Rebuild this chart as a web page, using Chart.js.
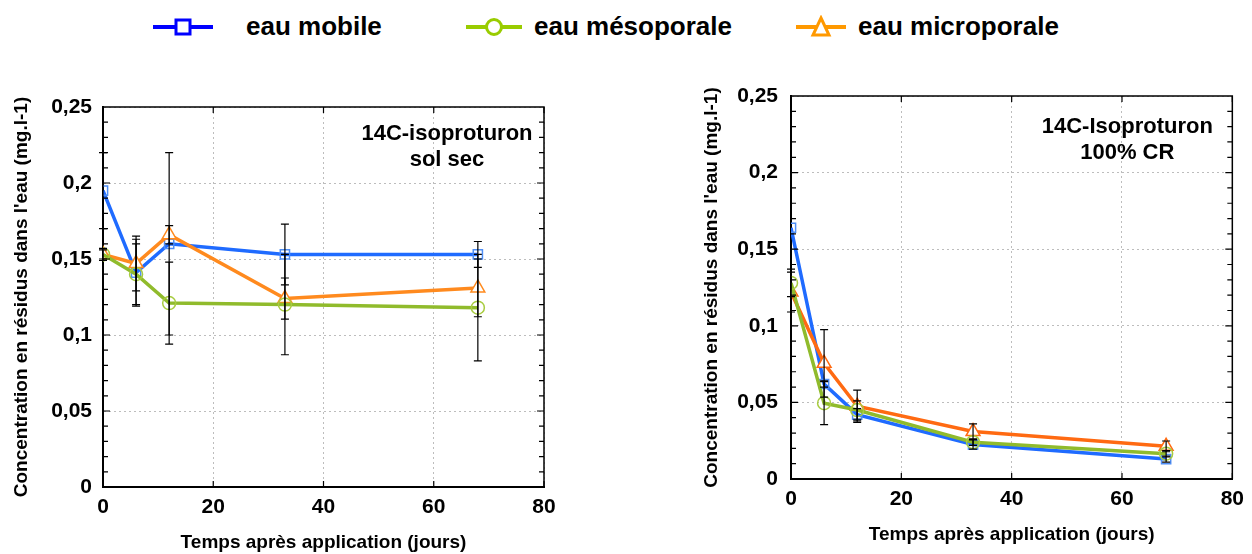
<!DOCTYPE html>
<html>
<head>
<meta charset="utf-8">
<script src="https://cdn.jsdelivr.net/npm/chart.js@4.4.1/dist/chart.umd.min.js"></script>
<style>
  body { margin: 0; background: #fff; font-family: Arial, "Liberation Sans", sans-serif; }
  #wrap { position: relative; width: 1252px; height: 554px; overflow: hidden; }
  .leg { position: absolute; top: 11px; font-weight: bold; font-size: 26px; line-height: 30px; color: #000; }
  .sym { position: absolute; top: 15px; }
  #leftBox { position: absolute; left: 0; top: 0; width: 580px; height: 554px; }
  #rightBox { position: absolute; left: 690px; top: 0; width: 562px; height: 554px; }
</style>
</head>
<body>
<div id="wrap">
  <svg class="sym" style="left:150px" width="66" height="24">
    <line x1="3" y1="12" x2="63" y2="12" stroke="#0000ff" stroke-width="4"/>
    <rect x="26" y="5" width="14" height="14" fill="#fff" stroke="#0000ff" stroke-width="3"/>
  </svg>
  <span class="leg" style="left:246px">eau mobile</span>
  <svg class="sym" style="left:463px" width="62" height="24">
    <line x1="3" y1="12" x2="59" y2="12" stroke="#99cc00" stroke-width="4"/>
    <circle cx="31" cy="12" r="7.5" fill="#fff" stroke="#99cc00" stroke-width="3"/>
  </svg>
  <span class="leg" style="left:534px">eau mésoporale</span>
  <svg class="sym" style="left:793px" width="56" height="24">
    <line x1="3" y1="12" x2="53" y2="12" stroke="#ff9900" stroke-width="4"/>
    <polygon points="28,3 36,20 20,20" fill="#fff" stroke="#ff9900" stroke-width="3"/>
  </svg>
  <span class="leg" style="left:858px">eau microporale</span>
  <div id="leftBox"><canvas id="chartSec"></canvas></div>
  <div id="rightBox"><canvas id="chartCR"></canvas></div>
</div>
<script>
// jours après application
const days = [0, 6, 12, 33, 68];
const yTickLabels = ["0", "0,05", "0,1", "0,15", "0,2", "0,25"];
const seriesNames = ["eau mobile", "eau mésoporale", "eau microporale"];

// 14C-isoproturon, sol sec
const secMobile = [0.195, 0.141, 0.16, 0.153, 0.153];
const secMeso = [0.153, 0.14, 0.121, 0.12, 0.118];
const secMicro = [0.153, 0.147, 0.166, 0.124, 0.131];
const secMobileErr = [0.025, 0.022, 0.06, 0.02, 0.0085];
const secMesoErr = [0.004, 0.02, 0.027, 0.033, 0.035];
const secMicroErr = [0.003, 0.018, 0.006, 0.0135, 0.019];

// 14C-Isoproturon, 100% CR
const crMobile = [0.164, 0.062, 0.042, 0.0225, 0.013];
const crMeso = [0.128, 0.0495, 0.045, 0.024, 0.0165];
const crMicro = [0.122, 0.0755, 0.0475, 0.031, 0.0213];
const crMobileErr = [0, 0.002, 0.004, 0.003, 0.002];
const crMesoErr = [0.009, 0.014, 0.006, 0.002, 0.002];
const crMicroErr = [0.013, 0.022, 0.0105, 0.005, 0.0035];

const FONT = "Arial, 'Liberation Sans', sans-serif";

function points(values) {
  return values.map((v, i) => ({ x: days[i], y: v }));
}

const errorBars = {
  id: "errorBars",
  afterDatasetsDraw(chart) {
    const { ctx } = chart;
    const { x, y } = chart.scales;
    ctx.save();
    ctx.strokeStyle = "#000";
    ctx.lineWidth = 1.2;
    chart.data.datasets.forEach((ds) => {
      if (!ds.errors) return;
      ds.data.forEach((p, i) => {
        const e = ds.errors[i];
        if (!e) return;
        const px = x.getPixelForValue(p.x);
        const top = y.getPixelForValue(p.y + e);
        const bot = y.getPixelForValue(p.y - e);
        ctx.beginPath();
        ctx.moveTo(px, top);
        ctx.lineTo(px, bot);
        ctx.moveTo(px - 4, top);
        ctx.lineTo(px + 4, top);
        ctx.moveTo(px - 4, bot);
        ctx.lineTo(px + 4, bot);
        ctx.stroke();
      });
    });
    ctx.restore();
  },
};

// top/right border, inward ticks, text note
const frame = {
  id: "frame",
  afterDraw(chart, args, opts) {
    const { ctx, chartArea: a } = chart;
    const { x, y } = chart.scales;
    ctx.save();
    ctx.strokeStyle = "#000";
    ctx.lineWidth = 1.5;
    ctx.beginPath();
    ctx.moveTo(a.left, a.top);
    ctx.lineTo(a.right, a.top);
    ctx.lineTo(a.right, a.bottom);
    ctx.stroke();

    ctx.lineWidth = 1.2;
    ctx.beginPath();
    x.ticks.forEach((t) => {
      const px = x.getPixelForValue(t.value);
      ctx.moveTo(px, a.top);
      ctx.lineTo(px, a.top + 6);
      ctx.moveTo(px, a.bottom);
      ctx.lineTo(px, a.bottom - 6);
    });
    for (let k = 1; k < 25; k++) {
      const py = y.getPixelForValue(k * 0.01);
      const len = k % 5 === 0 ? 7 : 5;
      ctx.moveTo(a.left, py);
      ctx.lineTo(a.left + len, py);
      ctx.moveTo(a.right, py);
      ctx.lineTo(a.right - len, py);
    }
    ctx.stroke();

    ctx.fillStyle = "#000";
    ctx.font = "bold 22px " + FONT;
    ctx.textAlign = "center";
    ctx.textBaseline = "middle";
    const cx = a.left + (a.right - a.left) * opts.fx;
    opts.lines.forEach((line, i) => {
      ctx.fillText(line, cx, a.top + opts.top + i * 26);
    });
    ctx.restore();
  },
};

function makeChart(id, values, errors, orange, layout) {
  const colors = [
    { line: "#1f6bff", mark: "#4f8ef5", style: "rect" },
    { line: "#90bb2c", mark: "#a8cc40", style: "circle" },
    { line: orange, mark: orange, style: "triangle" },
  ];
  const order = [3, 1, 2];
  const datasets = values.map((vals, i) => ({
    label: seriesNames[i],
    data: points(vals),
    errors: errors[i],
    order: order[i],
    borderColor: colors[i].line,
    borderWidth: 3.5,
    tension: 0,
    pointStyle: colors[i].style,
    pointRadius: colors[i].style === "triangle" ? 8 : 6.5,
    pointBorderColor: colors[i].mark,
    pointBorderWidth: 1.5,
    pointBackgroundColor: colors[i].style === "triangle" ? "#fff" : "rgba(255,255,255,0)",
  }));

  return new Chart(document.getElementById(id), {
    type: "line",
    data: { datasets },
    plugins: [errorBars, frame],
    options: {
      responsive: true,
      maintainAspectRatio: false,
      animation: false,
      events: [],
      layout: { padding: { top: layout.top, right: layout.right, left: 0, bottom: 0 } },
      scales: {
        x: {
          type: "linear",
          min: 0,
          max: 80,
          afterFit: (s) => { s.height = layout.xh; },
          ticks: { stepSize: 20, padding: 8, color: "#000", font: { family: FONT, size: 21, weight: "bold" } },
          grid: { color: "#bdbdbd", drawTicks: false },
          border: { display: true, color: "#000", width: 2, dash: [2, 3] },
          title: {
            display: true,
            text: "Temps après application (jours)",
            color: "#000",
            font: { family: FONT, size: 19, weight: "bold" },
            padding: { top: 0, bottom: layout.xtPad },
          },
        },
        y: {
          min: 0,
          max: 0.25,
          afterFit: (s) => { s.width = layout.yw; },
          ticks: {
            stepSize: 0.05,
            padding: layout.ytPad,
            color: "#000",
            font: { family: FONT, size: 21, weight: "bold" },
            callback: (v, i) => yTickLabels[i],
          },
          grid: { color: "#bdbdbd", drawTicks: false },
          border: { display: true, color: "#000", width: 2, dash: [2, 3] },
          title: {
            display: true,
            text: "Concentration en résidus dans l'eau (mg.l-1)",
            color: "#000",
            font: { family: FONT, size: 19, weight: "bold" },
            padding: { top: 10, bottom: 0 },
          },
        },
      },
      plugins: {
        legend: { display: false },
        tooltip: { enabled: false },
        frame: layout.note,
      },
    },
  });
}

const chartSec = makeChart(
  "chartSec",
  [secMobile, secMeso, secMicro],
  [secMobileErr, secMesoErr, secMicroErr],
  "#ff8a1e",
  { top: 107, right: 36, xh: 67, yw: 103, xtPad: 0, ytPad: 11,
    note: { lines: ["14C-isoproturon", "sol sec"], fx: 0.78, top: 27 } }
);

const chartCR = makeChart(
  "chartCR",
  [crMobile, crMeso, crMicro],
  [crMobileErr, crMesoErr, crMicroErr],
  "#ff6a12",
  { top: 96, right: 19, xh: 75, yw: 101, xtPad: 8, ytPad: 13,
    note: { lines: ["14C-Isoproturon", "100% CR"], fx: 0.762, top: 31 } }
);
</script>
</body>
</html>
